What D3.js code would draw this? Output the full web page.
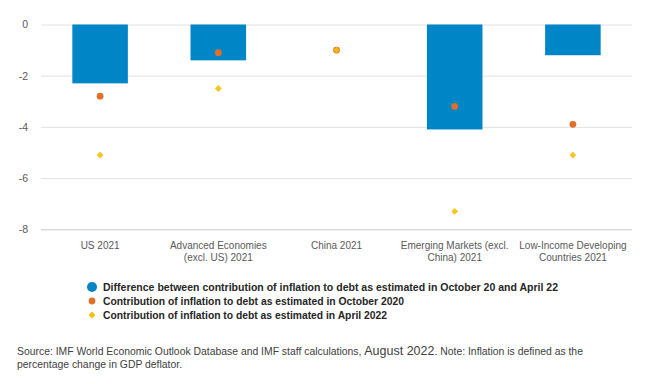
<!DOCTYPE html>
<html>
<head>
<meta charset="utf-8">
<script src="https://cdn.jsdelivr.net/npm/d3@7"></script>
<style>
  html, body { margin: 0; padding: 0; background: #ffffff; }
  svg { display: block; }
</style>
</head>
<body>
<svg id="chart" width="651" height="384"></svg>
<script>
const categories = [
  "US 2021",
  "Advanced Economies (excl. US) 2021",
  "China 2021",
  "Emerging Markets (excl. China) 2021",
  "Low-Income Developing Countries 2021"
];
const differenceValues = [-2.3, -1.4, 0.0, -4.1, -1.2];
const october2020Values = [-2.8, -1.1, -1.0, -3.2, -3.9];
const april2022Values = [-5.1, -2.5, -1.0, -7.3, -5.1];
const yTicks = [0, -2, -4, -6, -8];
const seriesNames = [
  "Difference between contribution of inflation to debt as estimated in October 20 and April 22",
  "Contribution of inflation to debt as estimated in October 2020",
  "Contribution of inflation to debt as estimated in April 2022"
];
const sourcePart1 = "Source: IMF World Economic Outlook Database and IMF staff calculations, ";
const sourcePart2 = "August 2022";
const sourcePart3 = ". Note: Inflation is defined as the";
const sourceLine2 = "percentage change in GDP deflator.";

const colors = { bar: "#0085C7", orange: "#E06F2A", yellow: "#F7BF0B" };

const svg = d3.select("#chart");
const plotLeft = 41, plotRight = 632, plotTop = 24.5, plotBottom = 229.3;

const x = d3.scaleBand().domain(categories).range([plotLeft, plotRight])
  .paddingInner(0.53).paddingOuter(0.265);
const y = d3.scaleLinear().domain([-8, 0]).range([plotBottom, plotTop]);

// gridlines + y labels
const yAxis = d3.axisLeft(y).tickValues(yTicks).tickSize(-(plotRight - plotLeft)).tickPadding(13).tickFormat(d => String(d));
const gy = svg.append("g").attr("transform", `translate(${plotLeft},0)`).call(yAxis);
gy.select(".domain").remove();
gy.selectAll(".tick line").attr("stroke", d => d === -8 ? "#c8c8c8" : "#e2e2e2").attr("stroke-width", 1);
gy.selectAll(".tick text").attr("fill", "#595959").attr("font-family", "Liberation Sans, Arial, sans-serif").attr("font-size", 10.5);

// x axis labels
const xAxis = d3.axisBottom(x).tickSize(0).tickPadding(0);
const gx = svg.append("g").attr("transform", `translate(0,${plotBottom})`).call(xAxis);
gx.select(".domain").remove();
gx.selectAll(".tick text")
  .attr("fill", "#595959").attr("font-family", "Liberation Sans, Arial, sans-serif").attr("font-size", 10)
  .each(function(d) {
    const t = d3.select(this);
    const words = d.split(" ");
    t.text(null);
    let lines = [], line = [];
    const tmp = t.append("tspan");
    words.forEach(w => {
      line.push(w);
      tmp.text(line.join(" "));
      if (tmp.node().getComputedTextLength() > 120 && line.length > 1) {
        line.pop(); lines.push(line.join(" ")); line = [w];
      }
    });
    lines.push(line.join(" "));
    tmp.remove();
    lines.forEach((l, i) => {
      t.append("tspan").attr("x", 0).attr("y", 19.5 + i * 12).attr("dy", 0).text(l);
    });
  });

// bars
svg.append("g").selectAll("rect").data(categories).join("rect")
  .attr("x", d => x(d))
  .attr("width", x.bandwidth())
  .attr("y", (d, i) => y(Math.max(0, differenceValues[i])))
  .attr("height", (d, i) => Math.abs(y(differenceValues[i]) - y(0)))
  .attr("fill", colors.bar);

// orange circles
svg.append("g").selectAll("circle").data(categories).join("circle")
  .attr("cx", d => x(d) + x.bandwidth() / 2)
  .attr("cy", (d, i) => y(october2020Values[i]))
  .attr("r", 3.4)
  .attr("fill", colors.orange);

// yellow diamonds
const diamond = d3.symbol().type(d3.symbolDiamond2).size(30);
svg.append("g").selectAll("path").data(categories).join("path")
  .attr("transform", (d, i) => `translate(${x(d) + x.bandwidth() / 2},${y(april2022Values[i])})`)
  .attr("d", diamond)
  .attr("fill", colors.yellow)
  .attr("opacity", 0.9);

// legend
const leg = svg.append("g");
const legRows = [287, 301, 315];
leg.append("circle").attr("cx", 92).attr("cy", legRows[0]).attr("r", 5).attr("fill", colors.bar);
leg.append("circle").attr("cx", 92).attr("cy", legRows[1]).attr("r", 3.4).attr("fill", colors.orange);
leg.append("path").attr("transform", `translate(92,${legRows[2]})`).attr("d", d3.symbol().type(d3.symbolDiamond2).size(30)).attr("fill", colors.yellow);
const legWidths = [455, 301, 284];
seriesNames.forEach((s, i) => {
  const t = leg.append("text").attr("x", 103).attr("y", legRows[i] + 4)
    .attr("font-family", "Liberation Sans Narrow, Arial Narrow, Liberation Sans, Arial, sans-serif")
    .attr("font-weight", "bold").attr("font-size", 11).attr("fill", "#262626").text(s);
  t.attr("textLength", legWidths[i]).attr("lengthAdjust", "spacingAndGlyphs");
});

// source
const src = svg.append("text").attr("x", 17).attr("y", 355)
  .attr("font-family", "Liberation Sans, Arial, sans-serif").attr("font-size", 10.4).attr("fill", "#404040");
src.append("tspan").text(sourcePart1);
src.append("tspan").attr("font-size", 12.5).text(sourcePart2);
src.append("tspan").text(sourcePart3);
svg.append("text").attr("x", 17).attr("y", 368)
  .attr("font-family", "Liberation Sans, Arial, sans-serif").attr("font-size", 10.4).attr("fill", "#404040")
  .text(sourceLine2);
</script>
</body>
</html>
